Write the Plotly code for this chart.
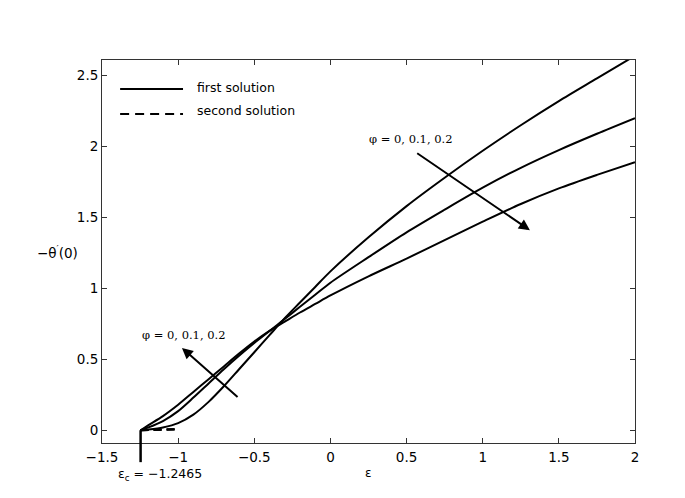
import plotly.graph_objects as go

# ---------------- data ----------------
EPS_C = -1.2465

# shared epsilon grid for the first-solution branches
eps_first = [EPS_C, -1.2, -1.1, -1.0, -0.9, -0.8, -0.7, -0.6, -0.5, -0.4, -0.3, -0.2, -0.1, 0.0,
             0.25, 0.5, 0.75, 1.0, 1.25, 1.5, 1.75, 2.0]
theta_phi0 = [0.0, 0.005, 0.02, 0.05, 0.11, 0.20, 0.31, 0.43, 0.55, 0.67, 0.79, 0.90, 1.01, 1.12,
              1.36, 1.58, 1.78, 1.97, 2.15, 2.32, 2.48, 2.64]
theta_phi1 = [0.0, 0.018, 0.065, 0.135, 0.23, 0.33, 0.43, 0.525, 0.615, 0.70, 0.785, 0.87, 0.955, 1.04,
              1.22, 1.395, 1.555, 1.71, 1.85, 1.975, 2.09, 2.20]
theta_phi2 = [0.0, 0.033, 0.10, 0.18, 0.27, 0.36, 0.45, 0.54, 0.625, 0.70, 0.765, 0.83, 0.89, 0.95,
              1.085, 1.21, 1.34, 1.47, 1.595, 1.705, 1.80, 1.89]

eps_second = [EPS_C, -1.2, -1.1, -1.0]
theta_second_phi0 = [0.0, 0.002, 0.004, 0.006]
theta_second_phi1 = [0.0, 0.002, 0.005, 0.007]
theta_second_phi2 = [0.0, 0.003, 0.006, 0.008]

x_ticks = [-1.5, -1, -0.5, 0, 0.5, 1, 1.5, 2]
y_ticks = [0, 0.5, 1, 1.5, 2, 2.5]
X_RANGE = [-1.5, 2.0]
Y_RANGE = [-0.09, 2.61]

legend_labels = ["first solution", "second solution"]
phi_label = "φ = 0, 0.1, 0.2"
eps_c_label = "ε<sub>c</sub> = −1.2465"
x_title = "ε"
y_title = "−θ<sup>′</sup>(0)"

# ---------------- figure ----------------
fig = go.Figure()

for ys in [theta_phi0, theta_phi1, theta_phi2]:
    fig.add_trace(go.Scatter(x=eps_first, y=ys, mode="lines",
                             line=dict(color="black", width=2, shape="spline", smoothing=0.8),
                             showlegend=False, hoverinfo="skip"))

for ys in [theta_second_phi0, theta_second_phi1, theta_second_phi2]:
    fig.add_trace(go.Scatter(x=eps_second, y=ys, mode="lines",
                             line=dict(color="black", width=2, dash="8px,5px"),
                             showlegend=False, hoverinfo="skip"))

sans = "DejaVu Sans, sans-serif"
serif = "DejaVu Serif, serif"

axis_common = dict(showline=True, linecolor="#333", linewidth=1, mirror="ticks",
                   ticks="inside", ticklen=5, tickcolor="#333", tickwidth=1,
                   showgrid=False, zeroline=False,
                   tickfont=dict(family=sans, size=13.5, color="black"))

fig.update_xaxes(range=X_RANGE, tickvals=x_ticks, ticklabelstandoff=2, **axis_common)
fig.update_yaxes(range=Y_RANGE, tickvals=y_ticks, **axis_common)

shapes = []
# vertical marker at the critical epsilon, running below the axis
y0_paper = (0 - Y_RANGE[0]) / (Y_RANGE[1] - Y_RANGE[0])
shapes.append(dict(type="line", xref="x", yref="paper", x0=EPS_C, x1=EPS_C,
                   y0=y0_paper, y1=-0.05, line=dict(color="black", width=2.5)))
# custom legend samples
shapes.append(dict(type="line", xref="paper", yref="paper", x0=0.034, x1=0.152,
                   y0=0.924, y1=0.924, line=dict(color="black", width=2)))
shapes.append(dict(type="line", xref="paper", yref="paper", x0=0.034, x1=0.152,
                   y0=0.859, y1=0.859, line=dict(color="black", width=2, dash="9px,6px")))

annotations = [
    dict(text=legend_labels[0], xref="paper", yref="paper", x=0.174, y=0.929,
         xanchor="left", yanchor="middle", showarrow=False,
         font=dict(family=sans, size=12.5, color="black")),
    dict(text=legend_labels[1], xref="paper", yref="paper", x=0.174, y=0.869,
         xanchor="left", yanchor="middle", showarrow=False,
         font=dict(family=sans, size=12.5, color="black")),
    # phi labels
    dict(text=phi_label, xref="x", yref="y", x=0.53, y=2.05, xanchor="center", yanchor="middle",
         showarrow=False, font=dict(family=serif, size=11.5, color="black")),
    dict(text=phi_label, xref="x", yref="y", x=-0.96, y=0.67, xanchor="center", yanchor="middle",
         showarrow=False, font=dict(family=serif, size=11.5, color="black")),
    # arrows
    dict(text="", x=1.31, y=1.41, ax=0.56, ay=1.96, xref="x", yref="y", axref="x", ayref="y",
         showarrow=True, arrowhead=2, arrowsize=1.1, arrowwidth=2, arrowcolor="black", standoff=0),
    dict(text="", x=-0.975, y=0.58, ax=-0.6, ay=0.225, xref="x", yref="y", axref="x", ayref="y",
         showarrow=True, arrowhead=2, arrowsize=1.1, arrowwidth=2, arrowcolor="black", standoff=0),
    # eps_c label
    dict(text=eps_c_label, xref="x", yref="paper", x=EPS_C, xshift=19, y=-0.082,
         xanchor="center", yanchor="middle",
         showarrow=False, font=dict(family=sans, size=12.5, color="black")),
    # axis titles
    dict(text=y_title, xref="paper", yref="paper", x=-0.084, y=0.5,
         xanchor="center", yanchor="middle",
         showarrow=False, font=dict(family=sans, size=13.5, color="black")),
    dict(text=x_title, xref="paper", yref="paper", x=0.5, y=-0.078,
         xanchor="center", yanchor="middle",
         showarrow=False, font=dict(family=sans, size=12, color="black")),
]

fig.update_layout(
    width=677, height=490,
    margin=dict(l=94, r=50, t=52, b=55),
    paper_bgcolor="white", plot_bgcolor="white",
    showlegend=False,
    shapes=shapes, annotations=annotations,
)

fig.write_html("out.html")
